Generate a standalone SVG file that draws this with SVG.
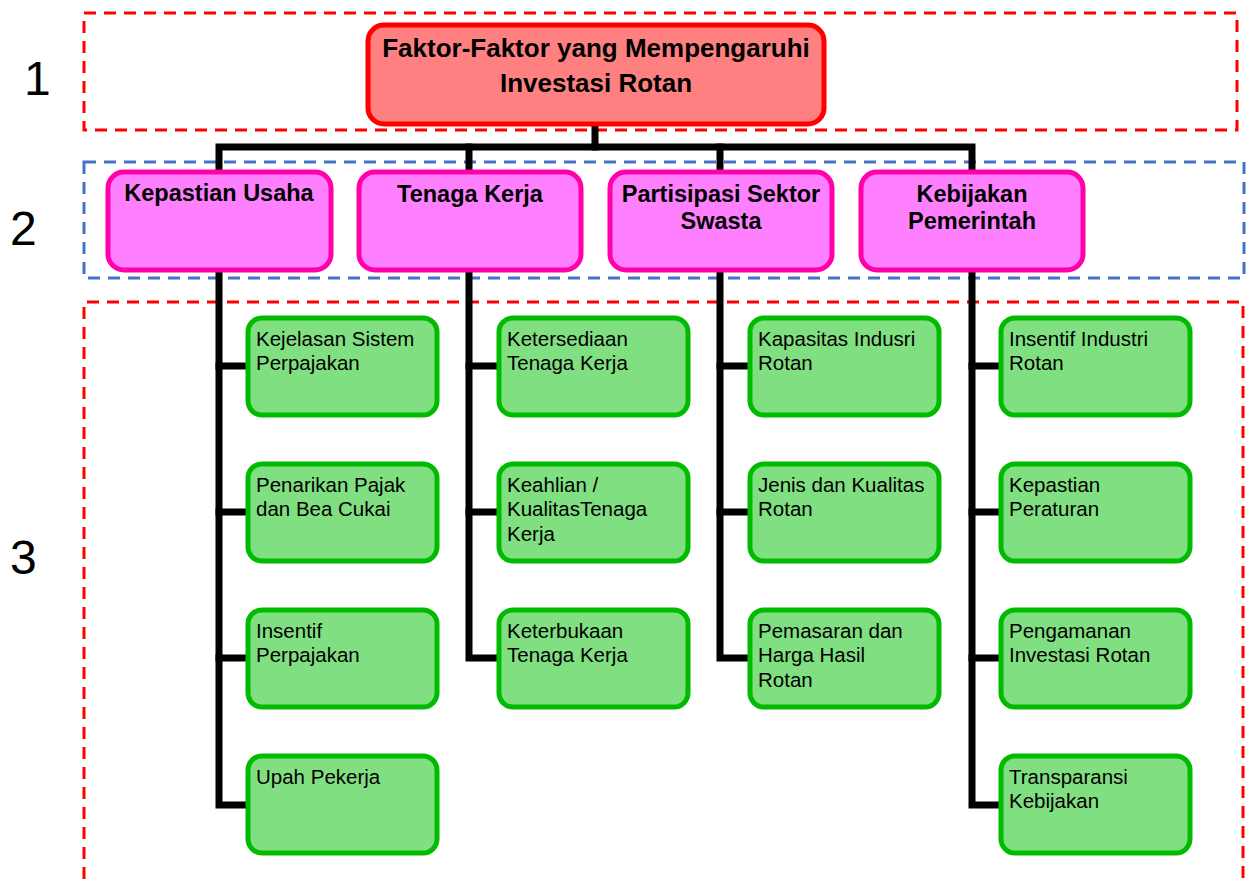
<svg xmlns="http://www.w3.org/2000/svg" width="1251" height="879" viewBox="0 0 1251 879">
<style>
.zone{fill:none;stroke-width:3;stroke-dasharray:12 8}
.z1,.z3{stroke:#FF0000}
.z2{stroke:#4472C4}
.num{font-family:"Liberation Sans",Arial,sans-serif;font-size:48px;fill:#000}
.root rect{fill:#FF8080;stroke:#FF0000;stroke-width:5}
.cat rect{fill:#FF80FF;stroke:#FF00AA;stroke-width:5}
.leaf rect{fill:#80DF80;stroke:#00BB00;stroke-width:5}
.root text{font-family:"Liberation Sans",Arial,sans-serif;font-weight:bold;font-size:26px;text-anchor:middle;fill:#000}
.cat text{font-family:"Liberation Sans",Arial,sans-serif;font-weight:bold;font-size:23.5px;text-anchor:middle;fill:#000}
.leaf text{font-family:"Liberation Sans",Arial,sans-serif;font-size:20.5px;fill:#000}
.conn path{fill:none;stroke:#000;stroke-width:7;stroke-linejoin:miter;stroke-linecap:square}
</style>
<rect class="zone z1" x="84" y="13" width="1153" height="117"/>
<rect class="zone z2" x="84" y="162" width="1160" height="116"/>
<path class="zone z3" d="M84,879 V302 H1243 V879"/>
<text class="num" x="24" y="95">1</text>
<text class="num" x="10" y="245">2</text>
<text class="num" x="10" y="574">3</text>
<g class="conn">
<path d="M595,126 V147"/>
<path d="M219,170 V147 H972 V170"/>
<path d="M469,147 V170"/>
<path d="M720,147 V170"/>
<path d="M219,272 V805 H246"/>
<path d="M219,366 H246 M219,512 H246 M219,658 H246"/>
<path d="M469,272 V658 H497"/>
<path d="M469,366 H497 M469,512 H497"/>
<path d="M720,272 V658 H748"/>
<path d="M720,366 H748 M720,512 H748"/>
<path d="M972,272 V805 H1000"/>
<path d="M972,366 H1000 M972,512 H1000 M972,658 H1000"/>
</g>
<g id="root" class="root"><rect x="368" y="25" width="456" height="99" rx="16"/><text x="596" y="57">Faktor-Faktor yang Mempengaruhi</text><text x="596" y="92">Investasi Rotan</text></g>
<g id="cat1" class="cat"><rect x="108" y="172" width="223" height="98" rx="16"/><text x="219" y="201">Kepastian Usaha</text></g>
<g id="cat2" class="cat"><rect x="359" y="172" width="222" height="98" rx="16"/><text x="470" y="202">Tenaga Kerja</text></g>
<g id="cat3" class="cat"><rect x="610" y="172" width="222" height="98" rx="16"/><text x="721" y="202">Partisipasi Sektor</text><text x="721" y="229">Swasta</text></g>
<g id="cat4" class="cat"><rect x="861" y="172" width="222" height="98" rx="16"/><text x="972" y="202">Kebijakan</text><text x="972" y="229">Pemerintah</text></g>
<g id="l1a" class="leaf"><rect x="248" y="318" width="189" height="97" rx="14"/><text x="256" y="346">Kejelasan Sistem</text><text x="256" y="370">Perpajakan</text></g>
<g id="l1b" class="leaf"><rect x="248" y="464" width="189" height="97" rx="14"/><text x="256" y="492">Penarikan Pajak</text><text x="256" y="516">dan Bea Cukai</text></g>
<g id="l1c" class="leaf"><rect x="248" y="610" width="189" height="97" rx="14"/><text x="256" y="638">Insentif</text><text x="256" y="662">Perpajakan</text></g>
<g id="l1d" class="leaf"><rect x="248" y="756" width="189" height="97" rx="14"/><text x="256" y="784">Upah Pekerja</text></g>
<g id="l2a" class="leaf"><rect x="499" y="318" width="189" height="97" rx="14"/><text x="507" y="346">Ketersediaan</text><text x="507" y="370">Tenaga Kerja</text></g>
<g id="l2b" class="leaf"><rect x="499" y="464" width="189" height="97" rx="14"/><text x="507" y="492">Keahlian /</text><text x="507" y="516">KualitasTenaga</text><text x="507" y="541">Kerja</text></g>
<g id="l2c" class="leaf"><rect x="499" y="610" width="189" height="97" rx="14"/><text x="507" y="638">Keterbukaan</text><text x="507" y="662">Tenaga Kerja</text></g>
<g id="l3a" class="leaf"><rect x="750" y="318" width="189" height="97" rx="14"/><text x="758" y="346">Kapasitas Indusri</text><text x="758" y="370">Rotan</text></g>
<g id="l3b" class="leaf"><rect x="750" y="464" width="189" height="97" rx="14"/><text x="758" y="492">Jenis dan Kualitas</text><text x="758" y="516">Rotan</text></g>
<g id="l3c" class="leaf"><rect x="750" y="610" width="189" height="97" rx="14"/><text x="758" y="638">Pemasaran dan</text><text x="758" y="662">Harga Hasil</text><text x="758" y="687">Rotan</text></g>
<g id="l4a" class="leaf"><rect x="1001" y="318" width="189" height="97" rx="14"/><text x="1009" y="346">Insentif Industri</text><text x="1009" y="370">Rotan</text></g>
<g id="l4b" class="leaf"><rect x="1001" y="464" width="189" height="97" rx="14"/><text x="1009" y="492">Kepastian</text><text x="1009" y="516">Peraturan</text></g>
<g id="l4c" class="leaf"><rect x="1001" y="610" width="189" height="97" rx="14"/><text x="1009" y="638">Pengamanan</text><text x="1009" y="662">Investasi Rotan</text></g>
<g id="l4d" class="leaf"><rect x="1001" y="756" width="189" height="97" rx="14"/><text x="1009" y="784">Transparansi</text><text x="1009" y="808">Kebijakan</text></g>
</svg>
